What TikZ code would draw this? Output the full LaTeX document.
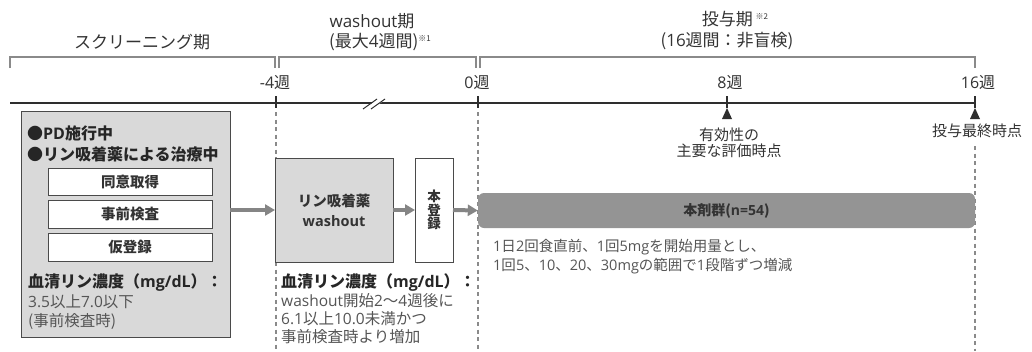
\documentclass[tikz,border=0pt]{standalone}
\usepackage{fontspec}
\setmainfont{Noto Sans CJK JP}
\newfontfamily\latfont{Open Sans}[Scale=1.0]
\newcommand{\lt}[1]{{\latfont #1}}
\usetikzlibrary{arrows.meta}
\definecolor{txt}{HTML}{333333}
\definecolor{subtxt}{HTML}{555555}
\definecolor{brk}{HTML}{8A8A8A}
\definecolor{axis}{HTML}{2E2E2E}
\definecolor{lightfill}{HTML}{D9D9D9}
\definecolor{darkfill}{HTML}{949494}
\definecolor{arrowgray}{HTML}{858585}
\definecolor{boxline}{HTML}{4A4A4A}
\newcommand{\supnote}[1]{{\fontsize{8}{8}\selectfont\raisebox{6pt}{#1}}}
\begin{document}
\begin{tikzpicture}[x=1pt,y=-1pt,
  header/.style={font=\fontsize{17}{21}\selectfont, text=txt, inner sep=0pt, align=center},
  weeklabel/.style={font=\fontsize{16}{17}\selectfont, text=txt, inner sep=0pt},
  note/.style={font=\fontsize{15}{16.5}\selectfont, text=txt, inner sep=0pt, align=center},
  bracketline/.style={draw=brk, line width=1.1pt},
  tickline/.style={draw=axis, line width=2pt},
  guide/.style={draw=brk, line width=1.2pt, dash pattern=on 4pt off 3.5pt},
  bigbox/.style={draw=boxline, line width=0.9pt, fill=lightfill, inner sep=0pt, outer sep=0pt},
  whitebox/.style={draw=boxline, line width=0.9pt, fill=white, inner sep=0pt, outer sep=0pt,
     font=\bfseries\fontsize{14.5}{15}\selectfont, text=txt},
  boldtext/.style={font=\bfseries\fontsize{16}{17}\selectfont, text=black!85, inner sep=0pt, anchor=west},
  bodytext/.style={font=\fontsize{15.5}{16}\selectfont, text=subtxt, inner sep=0pt, anchor=west},
  trttext/.style={font=\fontsize{14.5}{16}\selectfont, text=subtxt, inner sep=0pt, anchor=west},
  flowarrow/.style={draw=arrowgray, line width=4pt, -{Triangle[length=10pt,width=11pt]}},
  marker/.style={fill=axis, draw=none}
]
\useasboundingbox (0,0) rectangle (1032,351);

% headers
\node[header] (hscr) at (142,42) {スクリーニング期};
\node[header] (hwo1) at (372,21) {\lt{washout}期};
\node[header] (hwo2) at (380,42) {(最大\lt{4}週間)\supnote{※1}};
\node[header] (hdo1) at (735,19) {投与期\,\supnote{※2}};
\node[header] (hdo2) at (727,41) {(\lt{16}週間：非盲検)};

% brackets
\coordinate (b1a) at (10,68); \coordinate (b1b) at (275,68);
\coordinate (b2a) at (279,68); \coordinate (b2b) at (476,68);
\coordinate (b3a) at (480,68); \coordinate (b3b) at (975,68);
\draw[bracketline] (b1a) -- ++(0,-11) -| (b1b);
\draw[bracketline] (b2a) -- ++(0,-11) -| (b2b);
\draw[bracketline] (b3a) -- ++(0,-11) -| (b3b);

% timeline
\coordinate (tl0) at (10,103);
\coordinate (tm4) at (276,103);
\coordinate (t0) at (478,103);
\coordinate (t8) at (727,103);
\coordinate (t16) at (975,103);
\draw[draw=axis, line width=1.6pt] (tl0) -- (t16);
\foreach \c in {tm4,t0,t8,t16} \draw[tickline] (\c) ++(0,-7) -- ++(0,12);
% break mark
\fill[white] (364,109) -- (378,99) -- (386,99) -- (372,109) -- cycle;
\draw[draw=axis, line width=1pt] (363,109) -- (377,99) (371,109) -- (385,99);

\node[weeklabel] (lm4) at (275,83) {\lt{-4}週};
\node[weeklabel] (l0) at (477,83) {\lt{0}週};
\node[weeklabel] (l8) at (730,83) {\lt{8}週};
\node[weeklabel] (l16) at (978,83) {\lt{16}週};

% markers
\fill[marker] (t8) ++(-5,16) -- ++(5,-11) -- ++(5,11) -- cycle;
\fill[marker] (t16) ++(-5,16) -- ++(5,-11) -- ++(5,11) -- cycle;
\node[note] (eff) at (729,143) {有効性の\\主要な評価時点};
\node[note] (fin) at (977,131) {投与最終時点};

% guides
\draw[guide] (276,112) -- (276,351);
\draw[guide] (478,112) -- (478,351);
\draw[guide] (975,146) -- (975,351);

% screening box
\node[bigbox, minimum width=209pt, minimum height=226pt] (scr) at (125.5,224) {};
\node[boldtext] (pd) at (27,133) {●\lt{PD}施行中};
\node[boldtext] (rin) at (27,154) {●リン吸着薬による治療中};
\node[whitebox, minimum width=164pt, minimum height=27pt] (doi) at (130,181.5) {同意取得};
\node[whitebox, minimum width=164pt, minimum height=28pt] (jizen) at (130,214) {事前検査};
\node[whitebox, minimum width=164pt, minimum height=28pt] (kari) at (130,247) {仮登録};
\node[boldtext] (scrc) at (28,283) {血清リン濃度（\lt{mg/dL}）：};
\node[bodytext] (scr1) at (28,302) {\lt{3.5}以上\lt{7.0}以下};
\node[bodytext] (scr2) at (28,321) {(事前検査時)};

% washout box
\node[bigbox, minimum width=118pt, minimum height=104pt, align=center,
   font=\bfseries\fontsize{14.5}{20}\selectfont, text=txt] (wo) at (334,210) {リン吸着薬\\\lt{washout}};
\node[whitebox, minimum width=38pt, minimum height=104pt, align=center,
   font=\bfseries\fontsize{13.5}{13.5}\selectfont] (reg) at (434,210) {本\\登\\録};
\node[boldtext] (woc) at (281,283) {血清リン濃度（\lt{mg/dL}）：};
\node[bodytext] (wo1) at (281,301) {\lt{washout}開始\lt{2}〜\lt{4}週後に};
\node[bodytext] (wo2) at (281,319) {\lt{6.1}以上\lt{10.0}未満かつ};
\node[bodytext] (wo3) at (281,337) {事前検査時より増加};

% treatment box
\node[fill=darkfill, rounded corners=6pt, minimum width=497pt, minimum height=35pt,
   inner sep=0pt, font=\bfseries\fontsize{14}{15}\selectfont, text=black!80] (trt) at (726.5,210.5) {本剤群(\lt{n=54})};
\node[trttext] (trt1) at (493,247) {\lt{1}日\lt{2}回食直前、\lt{1}回\lt{5mg}を開始用量とし、};
\node[trttext] (trt2) at (493,266) {\lt{1}回\lt{5}、\lt{10}、\lt{20}、\lt{30mg}の範囲で\lt{1}段階ずつ増減};

% arrows
\draw[flowarrow] (scr.east |- wo.west) -- (wo.west);
\draw[flowarrow] (wo.east) -- (reg.west);
\draw[flowarrow] (reg.east) -- (trt.west);
\end{tikzpicture}
\end{document}
